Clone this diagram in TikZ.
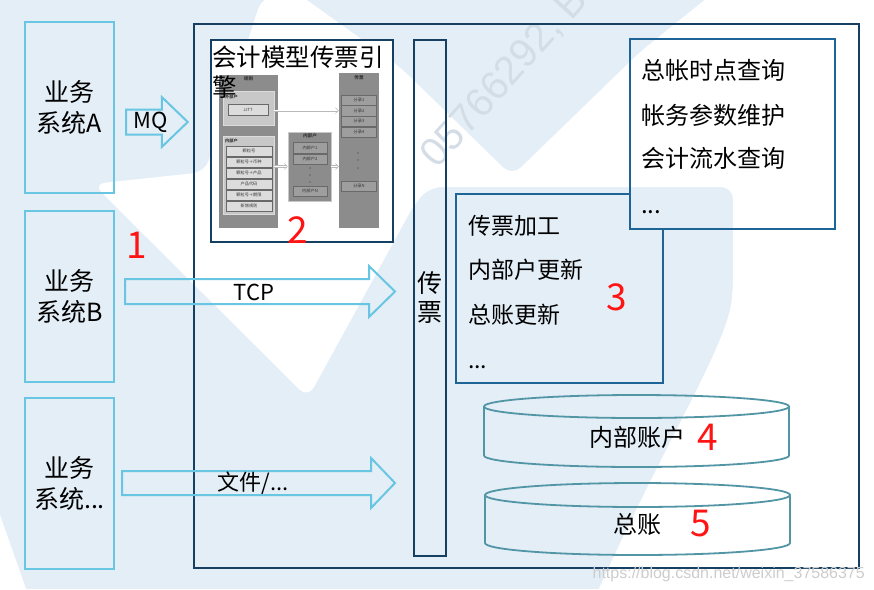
\documentclass[tikz,border=0pt]{standalone}
\usepackage{fontspec}
\setmainfont{Noto Sans CJK SC}
\newfontfamily\urlfont{Liberation Sans}
\usetikzlibrary{calc,arrows.meta}
\definecolor{lb}{RGB}{104,198,227}
\definecolor{navy}{RGB}{22,64,99}
\definecolor{midblue}{RGB}{30,100,150}
\definecolor{cyl}{RGB}{82,150,166}
\definecolor{wm}{RGB}{228,238,247}
\definecolor{wmtext}{RGB}{212,221,230}
\definecolor{urlgray}{RGB}{205,205,205}
\definecolor{gdark}{RGB}{140,140,140}
\definecolor{gmid}{RGB}{158,158,158}
\definecolor{glight}{RGB}{200,200,200}
\definecolor{gitem}{RGB}{220,220,220}
\definecolor{gedge}{RGB}{105,105,105}
\definecolor{gtext}{RGB}{55,55,55}
\definecolor{rednum}{RGB}{255,20,20}
\newcommand\blockarr[5]{%
  \draw[blockarrow] ($(#1)+(0,-#3)$) -- ($(#2)+(-#5,-#3)$) -- ($(#2)+(-#5,-#4)$) -- (#2)
    -- ($(#2)+(-#5,#4)$) -- ($(#2)+(-#5,#3)$) -- ($(#1)+(0,#3)$) -- cycle;}
\begin{document}
\begin{tikzpicture}[x=1pt,y=-1pt,
  sysbox/.style={draw=lb, line width=2pt, minimum width=89pt, minimum height=171pt,
    align=center, inner sep=0pt, font=\fontsize{25}{31}\selectfont},
  blockarrow/.style={draw=lb, line width=2pt, line join=miter},
  lbl/.style={inner sep=0pt, font=\fontsize{22}{26}\selectfont},
  rnum/.style={text=rednum, inner sep=0pt, font=\fontsize{37}{40}\selectfont},
  bluebox/.style={draw=midblue, line width=2pt, inner sep=0pt},
  listtxt/.style={anchor=west, inner sep=0pt, font=\fontsize{23}{26}\selectfont},
  listtxtb/.style={anchor=west, inner sep=0pt, font=\fontsize{24}{26}\selectfont},
  cylline/.style={draw=cyl, line width=1.8pt},
  cyltxt/.style={inner sep=0pt, font=\fontsize{24}{26}\selectfont},
  epanel/.style={fill=gdark, inner sep=0pt},
  esub/.style={fill=glight, draw=gitem, line width=0.5pt, inner sep=0pt},
  etitle/.style={inner sep=0pt, text=gtext, font=\fontsize{4.6}{5}\selectfont\bfseries},
  eitem/.style={fill=gitem, draw=gedge, line width=0.4pt, inner sep=0pt, text=gtext,
    font=\fontsize{4.2}{5}\selectfont},
  eitemd/.style={fill=gmid, draw=gedge, line width=0.4pt, inner sep=0pt, text=gtext,
    font=\fontsize{4.2}{5}\selectfont},
  earrow/.style={draw=gray!55, line width=0.5pt, double=white, double distance=1.2pt,
    -{Straight Barb[length=3pt,width=6pt]}},
]
\useasboundingbox (0,0) rectangle (874,589);
% ---------- watermark background ----------
\fill[wm] (0,0) rectangle (874,589);
\fill[white, rounded corners=12pt] (262,-3) -- (300,-5) -- (400,67) -- (512,176) -- (640,52)
  -- (717,-10) -- (900,-10) -- (900,620) -- (585,620) .. controls (660,450) and (725,350) .. (733,290)
  -- (733,187) -- (430,187) -- (415,203) -- (308,398) -- (93,184) -- (205,172) -- cycle;
\fill[white] (0,515) -- (30,600) -- (0,600) -- cycle;
\node[inner sep=0pt, rotate=48, text=wmtext, font=\urlfont\fontsize{40}{40}\selectfont] (wmt) at (505,78) {05766292, B};
% ---------- outer frame ----------
\node[draw=navy, line width=2.5pt, minimum width=665pt, minimum height=544pt, inner sep=0pt] (ob) at (526.5,296) {};
% ---------- source systems ----------
\node[sysbox] (sa) at (69.5,107.5) {业务\\系统A};
\node[sysbox] (sb) at (69.5,296) {业务\\系统B};
\node[sysbox] (sc) at (69.5,483) {业务\\系统...};
% ---------- voucher column ----------
\node[draw=navy, line width=2pt, minimum width=32pt, minimum height=516pt, inner sep=0pt] (pz) at (430,298) {};
\node[inner sep=0pt, align=center, font=\fontsize{25}{29}\selectfont] (pzt) at (430,297.5) {传\\票};
% ---------- block arrows ----------
\coordinate (mqS) at ([xshift=11pt,yshift=-14.5pt]sa.east);
\coordinate (mqE) at ([xshift=-5pt]ob.west |- mqS);
\blockarr{mqS}{mqE}{12.5}{25}{26}
\node[lbl] (mq) at (151,122) {MQ};
\coordinate (tcpS) at ([xshift=10pt,yshift=4.5pt]sb.east);
\coordinate (tcpE) at ([xshift=-18pt]pz.west |- tcpS);
\blockarr{tcpS}{tcpE}{12.5}{25.5}{26}
\node[lbl] (tcp) at (254,292) {TCP};
\coordinate (fS) at ([xshift=7pt]sc.east);
\coordinate (fE) at ([xshift=-18pt]pz.west |- fS);
\blockarr{fS}{fE}{12}{25}{24}
\node[lbl] (file) at (253,483) {文件/...};
\node[rnum] (n1) at (137,245) {1};
% ---------- embedded engine picture ----------
\node[draw=navy, fill=white, line width=2.5pt, minimum width=182pt, minimum height=202pt, inner sep=0pt] (eng) at (302,141) {};
\node[epanel, minimum width=59pt, minimum height=153pt] (pr) at (248.5,151.5) {};
\node[etitle] (prt) at (248.5,78.5) {规则};
\node[esub, minimum width=51pt, minimum height=34pt] (pw) at (248.5,108) {};
\node[etitle, anchor=west, font=\fontsize{4.2}{5}\selectfont\bfseries] (pwt) at (225,96.5) {外部户};
\node[eitem, minimum width=40.6pt, minimum height=10.7pt] (jj) at (248,109.7) {JJTT};
\node[esub, minimum width=51pt, minimum height=78pt] (pn) at (248.5,175) {};
\node[etitle, anchor=west, font=\fontsize{4.2}{5}\selectfont\bfseries] (pnt) at (225,141) {内部户};
\foreach \t [count=\i] in {颗粒号, 颗粒号＋币种, 颗粒号＋产品, 产品代码, 颗粒号＋期限, 新增规则}
  \node[eitem, minimum width=46.6pt, minimum height=10.7pt] (li\i) at (249,{151.3+(\i-1)*10.95}) {\t};
\node[epanel, draw=glight, line width=0.6pt, minimum width=43pt, minimum height=69pt] (pm) at (309.5,166.5) {};
\node[etitle] (pmt) at (310,136) {内部户};
\node[eitemd, minimum width=34pt, minimum height=10.6pt] (mi1) at (310,147.8) {内部户1};
\node[eitemd, minimum width=34pt, minimum height=10.6pt] (mi2) at (310,159) {内部户2};
\node[eitemd, minimum width=34pt, minimum height=10.6pt] (miN) at (310,191) {内部户N};
\foreach \yy in {168,175,182} \fill[gtext] (310,\yy) circle (0.55pt);
\node[epanel, minimum width=40pt, minimum height=155pt] (pc) at (359,150.8) {};
\node[etitle] (pct) at (359,78) {传票};
\foreach \i/\yy in {1/100,2/110.6,3/121.4,4/132.2}
  \node[eitemd, minimum width=35pt, minimum height=10.4pt] (fl\i) at (359,\yy) {分录\i};
\node[eitemd, minimum width=35pt, minimum height=10.4pt] (flN) at (359,186) {分录N};
\foreach \yy in {153,160,168} \fill[gtext] (358,\yy) circle (0.55pt);
\draw[earrow] (pw.east |- fl2) -- (pc.west |- fl2);
\draw[earrow] (pn.east |- pm) -- (pm.west);
\draw[earrow] (pm.east) -- (pc.west |- pm);
\node[anchor=north west, inner sep=0pt, align=left, font=\fontsize{24.5}{29.5}\selectfont] (ttl) at (212,46) {会计模型传票引\\擎};
\node[rnum] (n2) at (298,230) {2};
% ---------- processing box 3 ----------
\node[minimum width=207pt, minimum height=189pt, inner sep=0pt] (b3) at (559.5,288.5) {};
\node[bluebox, minimum width=205pt, minimum height=190pt] (tr) at (732.5,134) {};
\draw[midblue, line width=2pt] (tr.west |- b3.north) -- (b3.north west) -- (b3.south west)
  -- (b3.south east) -- (b3.east |- tr.south);
\node[listtxt] (t31) at (468,226) {传票加工};
\node[listtxt] (t32) at (468,270) {内部户更新};
\node[listtxt] (t33) at (468,315) {总账更新};
\node[listtxt] (t34) at (468,367) {...};
\node[rnum] (n3) at (617,297) {3};
\node[listtxtb] (t41) at (641,70) {总帐时点查询};
\node[listtxtb] (t42) at (641,115) {帐务参数维护};
\node[listtxtb] (t43) at (641,158) {会计流水查询};
\node[listtxtb] (t44) at (641,212) {...};
% ---------- databases ----------
\draw[cylline] (636.5,406.5) ellipse [x radius=152.5pt, y radius=11.5pt];
\draw[cylline] (484,406.5) -- (484,455.5) .. controls (484,461.85) and (552.27,467) .. (636.5,467)
  .. controls (720.73,467) and (789,461.85) .. (789,455.5) -- (789,406.5);
\node[cyltxt] (d1) at (637,437) {内部账户};
\node[rnum] (n4) at (708,437) {4};
\draw[cylline] (637.5,495) ellipse [x radius=152.5pt, y radius=12pt];
\draw[cylline] (485,495) -- (485,543) .. controls (485,549.63) and (553.27,555) .. (637.5,555)
  .. controls (721.73,555) and (790,549.63) .. (790,543) -- (790,495);
\node[cyltxt] (d2) at (637,524) {总账};
\node[rnum] (n5) at (701,524) {5};
% ---------- watermark url ----------
\node[anchor=base east, inner sep=0pt, text=urlgray, font=\urlfont\fontsize{16}{16}\selectfont] (url) at (865,578) {https://blog.csdn.net/weixin\_37586375};
\end{tikzpicture}
\end{document}
